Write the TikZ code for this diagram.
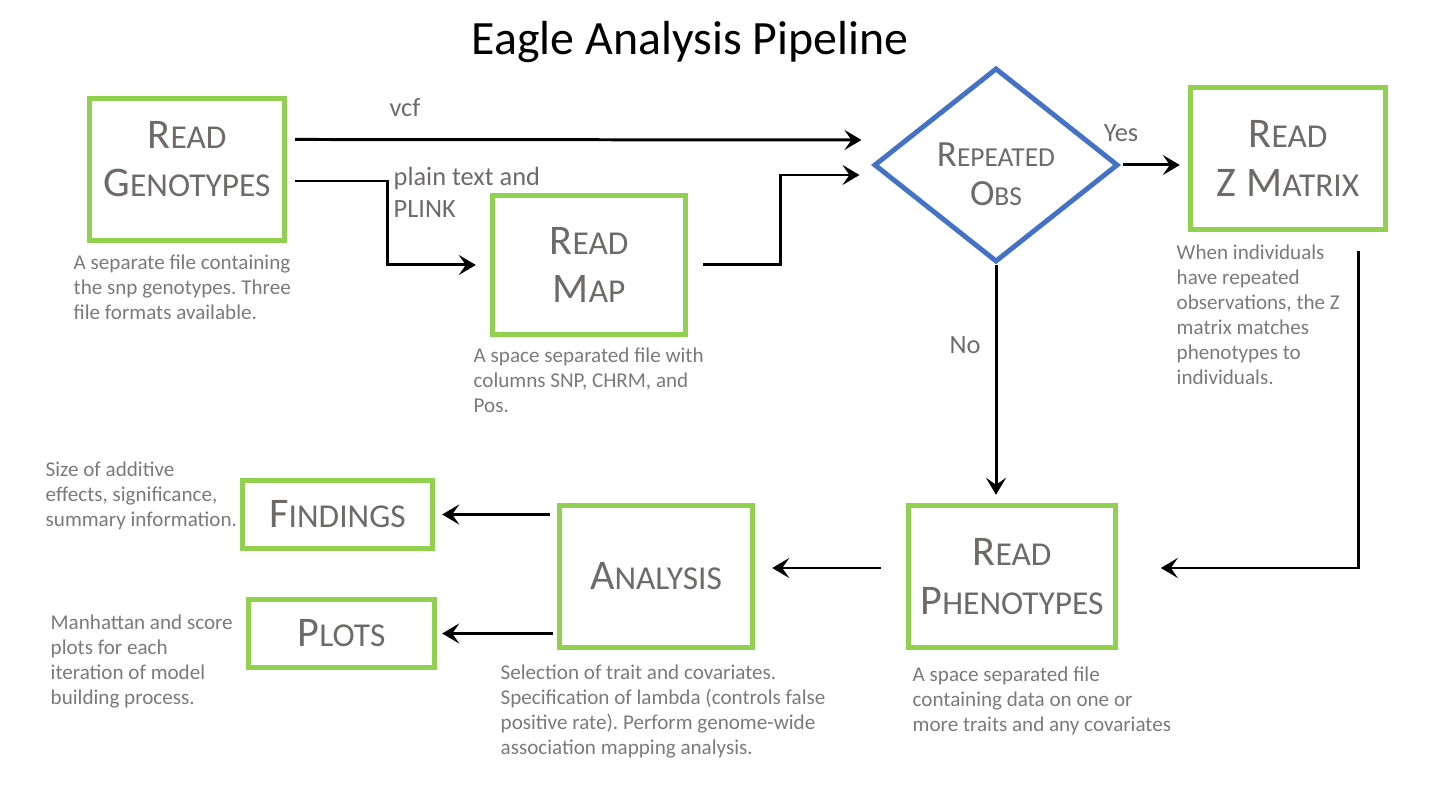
\documentclass[tikz,border=0pt]{standalone}
\usepackage{fontspec}
\setmainfont{Carlito}
\usetikzlibrary{arrows.meta,shapes.geometric}
\definecolor{boxgreen}{HTML}{92D050}
\definecolor{obsblue}{HTML}{4472C4}
\definecolor{labelgray}{HTML}{6E6A6A}
\definecolor{notegray}{HTML}{7A7A7A}
\newcommand{\boxsc}[2]{#1{\fontsize{9.5}{13.7}\selectfont #2}}
\newcommand{\obssc}[2]{#1{\fontsize{7.8}{11.1}\selectfont #2}}
\frenchspacing

\begin{document}
\begin{tikzpicture}[x=0.01cm,y=-0.01cm,
  >={Stealth[length=0.17cm,width=0.2cm,inset=0.07cm]},
  main node/.style={draw=boxgreen,line width=1.5pt,minimum width=1.95cm,
    minimum height=1.42cm,align=center,text=labelgray,
    font=\fontsize{12}{13.7}\selectfont},
  small node/.style={main node,minimum width=1.9cm,minimum height=0.68cm},
  note/.style={anchor=north west,inner sep=0pt,align=left,text=notegray,
    font=\fontsize{6}{7.1}\selectfont},
  tag/.style={inner sep=0pt,text=labelgray,font=\fontsize{7.5}{9.1}\selectfont},
  flow/.style={->,line width=0.85pt}]
  \useasboundingbox (0,0) rectangle (1440,810);
  \node (title) at (690,42) {\fontsize{13.6}{16}\selectfont Eagle Analysis Pipeline};
  \node[main node,label={[align=center,text=labelgray,font=\fontsize{12}{13.7}\selectfont,
    yshift=0.1cm]center:\boxsc{R}{EAD}\\\boxsc{G}{ENOTYPES}}]
                     (gen)   at (187,169.5)  {};
  \node[main node,minimum width=1.93cm,minimum height=1.39cm]
                     (map)   at (589,265)    {\boxsc{R}{EAD}\\\boxsc{M}{AP}};
  \node[main node]   (zmat)  at (1288,158.5) {\boxsc{R}{EAD}\\\boxsc{Z M}{ATRIX}};
  \node[main node]   (phen)  at (1012,576.5) {\boxsc{R}{EAD}\\\boxsc{P}{HENOTYPES}};
  \node[main node,minimum width=1.93cm]
                     (ana)   at (656,576.5)  {\boxsc{A}{NALYSIS}};
  \node[small node]  (find)  at (337.5,514.5) {\boxsc{F}{INDINGS}};
  \node[small node,minimum width=1.86cm]
                     (plots) at (341.5,633.5) {\boxsc{P}{LOTS}};
  \node[diamond,draw=obsblue,line width=1.4pt,minimum width=2.44cm,
    minimum height=1.94cm,inner sep=0pt,
    label={[align=center,text=labelgray,font=\fontsize{10.5}{11.1}\selectfont,
    yshift=-0.09cm]center:\obssc{R}{EPEATED}\\\obssc{O}{BS}}]
                     (obs)   at (996,165)    {};
  % descriptions
  \node[note] (gen note)   at (73,254)   {A separate file containing\\the snp genotypes. Three\\file formats available.};
  \node[note] (map note)   at (473,347)  {A space separated file with\\columns SNP, CHRM, and\\Pos.};
  \node[note] (zmat note)  at (1176,244) {When individuals\\have repeated\\observations, the Z\\matrix matches\\phenotypes to\\individuals.};
  \node[note] (phen note)  at (912,666)  {A space separated file\\containing data on one or\\more traits and any covariates};
  \node[note] (ana note)   at (500,664)  {Selection of trait and covariates.\\Specification of lambda (controls false\\positive rate). Perform genome-wide\\association mapping analysis.};
  \node[note] (find note)  at (45,461)   {Size of additive\\effects, significance,\\summary information.};
  \node[note] (plots note) at (50,614)   {Manhattan and score\\plots for each\\iteration of model\\building process.};
  % edge labels
  \node[tag] (vcf) at (405,108) {vcf};
  \node[tag,anchor=north west,align=left] (plink) at (393,166) {plain text and\\PLINK};
  \node[tag] (yes) at (1121,133) {Yes};
  \node[tag] (no)  at (965,345)  {No};
  % connectors
  \draw[flow] ([xshift=0.08cm,yshift=0.3cm]gen.east) -- ([xshift=-0.1cm,yshift=0.25cm]obs.west);
  \draw[flow] ([xshift=0.08cm,yshift=-0.115cm]gen.east) -| ([xshift=-1.02cm]map.west)
    -- ([xshift=-0.14cm]map.west);
  \draw[flow] ([xshift=0.15cm]map.east) -- ++(77,0) |- ([xshift=-0.12cm,yshift=-0.1cm]obs.west);
  \draw[flow] ([xshift=0.7cm,yshift=-0.19cm]zmat.south) |- ([xshift=0.43cm,yshift=0.085cm]phen.east);
  \draw[flow] ([xshift=-0.25cm,yshift=0.085cm]phen.west) -- ([xshift=0.17cm,yshift=0.085cm]ana.east);
  \path
    (obs.east) edge [flow,shorten <=0.02cm,shorten >=0.08cm] (obs.east -| zmat.west)
    (obs.south) edge [flow,shorten >=0.08cm] (obs.south |- phen.north)
    (ana.west |- find.east) edge [flow,shorten <=0.07cm,shorten >=0.07cm] (find.east)
    (ana.west |- plots.east) edge [flow,shorten <=0.04cm,shorten >=0.05cm] (plots.east);
\end{tikzpicture}
\end{document}
